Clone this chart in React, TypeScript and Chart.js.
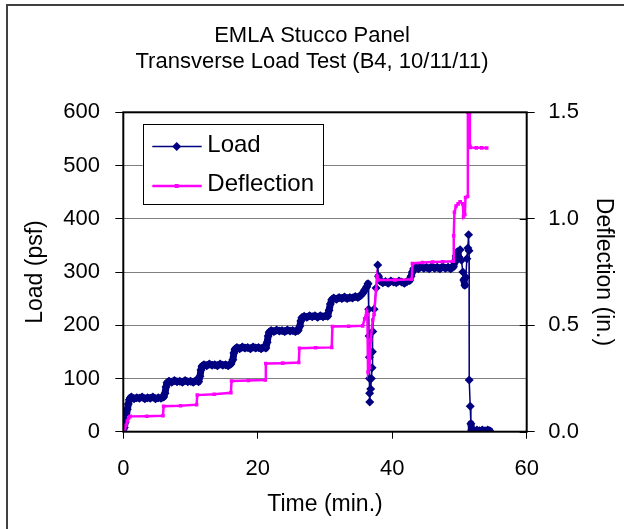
import React, { useEffect, useRef } from "react";
import { Chart, registerables } from "chart.js";

Chart.register(...registerables);

const FONT = "'Liberation Sans', Arial, sans-serif";

const titleLines = ["EMLA Stucco Panel", "Transverse Load Test (B4, 10/11/11)"];
const xTitle = "Time (min.)";
const yTitle = "Load (psf)";
const y1Title = "Deflection (in.)";
const seriesNames = ["Load", "Deflection"];

// Load series (time in min., load in psf)
const loadTime = [
  0, 0.15, 0.3, 0.45, 0.6, 0.75, 0.9, 1.05,
  1.2, 1.6, 2.0, 2.4, 2.8, 3.2, 3.6, 4.0, 4.4, 4.8, 5.2, 5.6, 6.0,
  6.2, 6.35, 6.5,
  6.8, 7.2, 7.6, 8.0, 8.4, 8.8, 9.2, 9.6, 10.0, 10.4, 10.8, 11.2,
  11.4, 11.55, 11.7,
  12.0, 12.4, 12.8, 13.2, 13.6, 14.0, 14.4, 14.8, 15.2, 15.6, 16.0,
  16.3, 16.45, 16.6,
  16.9, 17.3, 17.7, 18.1, 18.5, 18.9, 19.3, 19.7, 20.1, 20.5, 20.9, 21.2,
  21.4, 21.55, 21.7,
  22.0, 22.4, 22.8, 23.2, 23.6, 24.0, 24.4, 24.8, 25.2, 25.6, 26.0,
  26.25, 26.4, 26.55,
  26.9, 27.3, 27.7, 28.1, 28.5, 28.9, 29.3, 29.7, 30.1, 30.4,
  30.6, 30.8, 31.0,
  31.3, 31.7, 32.1, 32.5, 32.9, 33.3, 33.7, 34.1, 34.5, 34.9, 35.3,
  35.6, 35.9, 36.2, 36.4,
  36.5, 36.55, 36.6, 36.62, 36.64, 36.66,
  36.8, 36.9, 37.0, 37.05, 37.1, 37.3, 37.6, 37.85, 37.95,
  38.2, 38.6, 39.0, 39.4, 39.8, 40.2, 40.6, 41.0, 41.4, 41.8, 42.2, 42.6,
  42.8, 43.0, 43.2,
  43.5, 43.9, 44.3, 44.7, 45.1, 45.5, 45.9, 46.3, 46.7, 47.1, 47.5, 47.9, 48.3, 48.7, 49.1,
  49.3, 49.5, 49.7, 49.9, 50.1, 50.3, 50.5, 50.65, 50.8, 50.95, 51.1, 51.25, 51.35, 51.42,
  51.45, 51.6, 51.7, 51.8,
  52.2, 52.6, 53.0, 53.4, 53.8, 54.2, 54.5,
];
const loadPsf = [
  0, 8, 18, 30, 42, 52, 60, 64,
  65, 62, 64, 63, 65, 62, 64, 63, 65, 62, 64, 63, 65,
  72, 84, 92,
  95, 93, 96, 94, 95, 93, 96, 94, 95, 93, 96, 94,
  104, 116, 123,
  126, 124, 127, 125, 126, 124, 127, 125, 126, 124, 127,
  135, 148, 155,
  158, 156, 159, 157, 158, 156, 159, 157, 158, 156, 159, 157,
  168, 180, 187,
  190, 188, 191, 189, 190, 188, 191, 189, 190, 188, 190,
  198, 208, 214,
  217, 215, 218, 216, 218, 215, 218, 216, 218, 217,
  228, 240, 248,
  251, 249, 252, 250, 253, 250, 252, 251, 254, 252, 256,
  260, 266, 272, 278,
  230, 180, 140, 100, 72, 56,
  80, 100, 120, 150, 188, 230, 270, 313, 292,
  283, 280, 282, 279, 283, 281, 280, 283, 281, 279, 282, 284,
  292, 300, 306,
  309, 306, 310, 307, 309, 306, 310, 307, 309, 306, 310, 307, 309, 306, 310,
  318, 330, 338, 328, 342, 322, 300, 285, 275, 290, 325, 345, 370, 340,
  97, 48, 15, 3,
  2, 3, 2, 3, 2, 3, 2,
];

// Deflection series (time in min., deflection in in.)
const deflTime = [
  0, 0.2, 0.4, 0.6, 0.8, 1.0,
  3.5, 5.9,
  6.0, 8.5, 10.9,
  11.0, 13.5, 16.0,
  16.1, 18.6, 21.1,
  21.2, 23.7, 26.1,
  26.2, 28.6, 31.0,
  31.1, 33.5, 35.6,
  35.9, 36.2, 36.3, 36.4, 36.6, 36.8, 37.1, 37.3, 37.6, 37.75, 37.9,
  40.4, 42.9,
  43.0, 44.5, 46.0, 47.5, 49.1,
  49.15, 49.25, 49.5, 49.8, 50.1, 50.5, 50.6, 50.8, 50.9, 51.2,
  51.25, 51.5, 51.55, 51.6, 52.5, 53.3, 54.05,
];
const deflIn = [
  0, 0.01, 0.03, 0.05, 0.065, 0.072,
  0.073, 0.075,
  0.12, 0.122, 0.127,
  0.172, 0.176, 0.183,
  0.238, 0.24, 0.243,
  0.32, 0.322, 0.325,
  0.392, 0.394, 0.396,
  0.494, 0.495, 0.497,
  0.53, 0.565, 0.55, 0.28, 0.3, 0.43, 0.525, 0.55, 0.665, 0.73, 0.712,
  0.713, 0.716,
  0.79, 0.795, 0.797, 0.798, 0.8,
  0.92, 1.03, 1.06, 1.07, 1.08, 1.07, 1.01, 1.02, 1.1, 1.105,
  1.5, 1.5, 1.34, 1.335, 1.333, 1.333, 1.332,
];

const xTicksStep = 20;
const yTicksStep = 100;
const y1TicksStep = 0.5;

const NAVY = "#000080";
const MAGENTA = "#FF00FF";

const decorPlugin = {
  id: "decor",
  afterDatasetsDraw(chart: any) {
    const { ctx, chartArea } = chart;
    const { left, right, top, bottom } = chartArea;
    ctx.save();
    // plot area border
    ctx.strokeStyle = "#000";
    ctx.lineWidth = 2;
    ctx.strokeRect(left, top, right - left, bottom - top);
    // inward part of right axis ticks
    const y1 = chart.scales.y1;
    ctx.lineWidth = 1;
    y1.ticks.forEach((t: any) => {
      const py = Math.round(y1.getPixelForValue(t.value)) + 0.5;
      ctx.beginPath();
      ctx.moveTo(right - 7, py);
      ctx.lineTo(right, py);
      ctx.stroke();
    });
    // legend
    const lx = 142.7, ly = 124.3, lw = 180, lh = 80;
    ctx.fillStyle = "#fff";
    ctx.fillRect(lx, ly, lw, lh);
    ctx.strokeStyle = "#000";
    ctx.lineWidth = 1;
    ctx.strokeRect(Math.round(lx) + 0.5, Math.round(ly) + 0.5, lw, lh);
    const rows = [
      { name: seriesNames[0], y: 146.5, color: NAVY, width: 1.5 },
      { name: seriesNames[1], y: 186, color: MAGENTA, width: 2.5 },
    ];
    rows.forEach((r, i) => {
      ctx.strokeStyle = r.color;
      ctx.lineWidth = r.width;
      ctx.beginPath();
      ctx.moveTo(152.3, r.y);
      ctx.lineTo(201.7, r.y);
      ctx.stroke();
      ctx.fillStyle = r.color;
      const cx = 176.7;
      if (i === 0) {
        ctx.beginPath();
        ctx.moveTo(cx, r.y - 4.5);
        ctx.lineTo(cx + 4.5, r.y);
        ctx.lineTo(cx, r.y + 4.5);
        ctx.lineTo(cx - 4.5, r.y);
        ctx.closePath();
        ctx.fill();
      } else {
        ctx.fillRect(cx - 2, r.y - 2, 4, 4);
      }
      ctx.fillStyle = "#000";
      ctx.font = `24px ${FONT}`;
      ctx.textBaseline = "middle";
      ctx.textAlign = "left";
      ctx.fillText(r.name, 207.3, r.y - 1.5);
    });
    // outer frame (cropped at right and bottom)
    ctx.strokeStyle = "#404040";
    ctx.lineWidth = 2;
    ctx.strokeRect(7, 5, 800, 800);
    ctx.restore();
  },
};

export default function App() {
  const ref = useRef<HTMLCanvasElement | null>(null);
  useEffect(() => {
    if (!ref.current) return;
    const tickFont = { family: FONT, size: 22 };
    const titleFont = { family: FONT, size: 23, lineHeight: 1.2 };
    const chart = new Chart(ref.current, {
      type: "line",
      data: {
        datasets: [
          {
            label: seriesNames[1],
            data: deflTime.map((t, i) => ({ x: t, y: deflIn[i] })),
            yAxisID: "y1",
            borderColor: MAGENTA,
            backgroundColor: MAGENTA,
            borderWidth: 2.5,
            pointStyle: "rect",
            pointRadius: 2.5,
            pointBorderWidth: 0,
            tension: 0,
            order: 0,
          },
          {
            label: seriesNames[0],
            data: loadTime.map((t, i) => ({ x: t, y: loadPsf[i] })),
            yAxisID: "y",
            borderColor: NAVY,
            backgroundColor: NAVY,
            borderWidth: 1.5,
            borderJoinStyle: "round",
            borderCapStyle: "round",
            segment: {
              // dense markers in the original merge into a thick band on slow segments
              borderWidth: (c: any) => (Math.abs(c.p1.parsed.y - c.p0.parsed.y) <= 13 ? 7 : 1.5),
            },
            pointStyle: "rectRot",
            pointRadius: 4.5,
            pointBorderWidth: 0,
            tension: 0,
            order: 1,
          },
        ],
      },
      options: {
        animation: false,
        responsive: false,
        devicePixelRatio: 1,
        layout: { padding: 0 },
        plugins: {
          legend: { display: false },
          tooltip: { enabled: false },
          title: {
            display: true,
            text: titleLines,
            color: "#000",
            font: { family: FONT, size: 22, weight: "normal", lineHeight: 1.2 },
            padding: { top: 22.8, bottom: 36.7 },
          },
        },
        scales: {
          x: {
            type: "linear",
            min: 0,
            max: 60,
            ticks: { stepSize: xTicksStep, color: "#000", font: tickFont, padding: 17, maxRotation: 0 },
            grid: { drawOnChartArea: false, tickLength: 7, tickColor: "#000" },
            border: { display: false },
            title: { display: true, text: xTitle, color: "#000", font: titleFont, padding: { top: 0, bottom: 10.2 } },
            afterFit: (s: any) => { s.height = 97.3; },
          },
          y: {
            type: "linear",
            position: "left",
            min: 0,
            max: 600,
            ticks: { stepSize: yTicksStep, color: "#000", font: tickFont, padding: 15.3 },
            grid: { color: "#808080", lineWidth: 1, tickLength: 8, tickColor: "#000" },
            border: { display: false },
            title: { display: true, text: yTitle, color: "#000", font: titleFont, padding: { top: 22.2, bottom: 0 } },
            afterFit: (s: any) => { s.width = 123.3; },
          },
          y1: {
            type: "linear",
            position: "right",
            min: 0,
            max: 1.5,
            ticks: {
              stepSize: y1TicksStep,
              color: "#000",
              font: tickFont,
              padding: 13.6,
              callback: (v: any) => Number(v).toFixed(1),
            },
            grid: { drawOnChartArea: false, tickLength: 8, tickColor: "#000" },
            border: { display: false },
            title: { display: true, text: y1Title, color: "#000", font: titleFont, padding: { top: 7.2, bottom: 0 } },
            afterFit: (s: any) => { s.width = 97.3; },
          },
        },
      },
      plugins: [decorPlugin],
    } as any);
    return () => chart.destroy();
  }, []);
  return (
    <div style={{ position: "absolute", left: 0, top: 0, width: 624, height: 529, background: "#fff" }}>
      <canvas ref={ref} width={624} height={529} style={{ display: "block" }} />
    </div>
  );
}
